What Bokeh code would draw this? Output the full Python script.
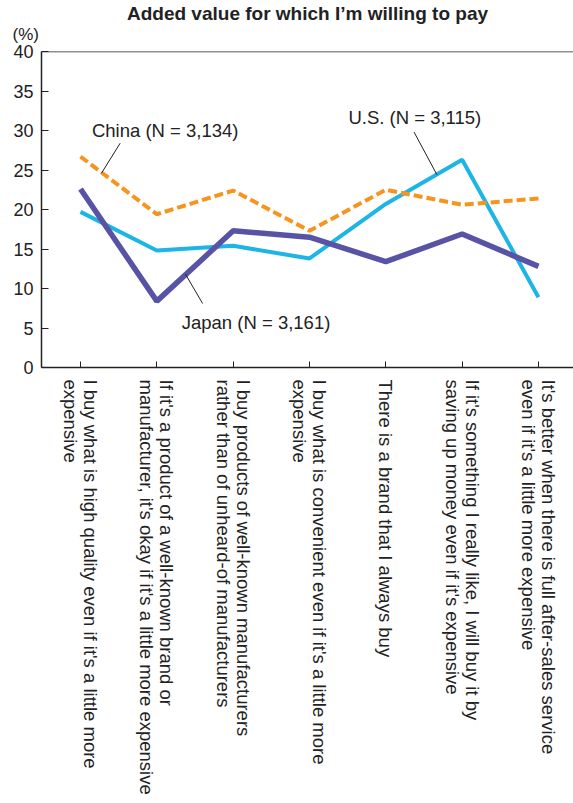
import math
from bokeh.plotting import figure
from bokeh.models import Range1d, FixedTicker, Label, Span, Title
from bokeh.embed import file_html
from bokeh.resources import INLINE

# Survey categories (x axis, one tick each)
categories = [
    "I buy what is high quality even if it's a little more\nexpensive",
    "If it's a product of a well-known brand or\nmanufacturer, it's okay if it's a little more expensive",
    "I buy products of well-known manufacturers\nrather than of unheard-of manufacturers",
    "I buy what is convenient even if it's a little more\nexpensive",
    "There is a brand that I always buy",
    "If it's something I really like, I will buy it by\nsaving up money even if it's expensive",
    "It's better when there is full after-sales service\neven if it's a little more expensive",
]

# Share of respondents (%) by country
china = [26.7, 19.4, 22.4, 17.3, 22.5, 20.6, 21.4]
us = [19.7, 14.8, 15.4, 13.8, 20.7, 26.3, 8.9]
japan = [22.6, 8.4, 17.3, 16.5, 13.4, 16.9, 12.8]

series_labels = ["China (N = 3,134)", "U.S. (N = 3,115)", "Japan (N = 3,161)"]
y_ticks = [0, 5, 10, 15, 20, 25, 30, 35, 40]

FONT = "Liberation Sans"
INK = "#222222"
xs = list(range(len(categories)))

p = figure(
    width=573, height=803,
    output_backend="svg", toolbar_location=None,
    x_range=Range1d(-0.511, 6.459), y_range=Range1d(0, 40),
    min_border_left=41, min_border_right=0,
    min_border_top=51, min_border_bottom=436,
)
p.outline_line_color = None
p.grid.grid_line_color = None

# unit note just above the frame, then the chart title above it
# (the title tucks down beside the unit note)
p.add_layout(Title(text="(%)", align="left", offset=-29, standoff=15,
                   text_font=FONT, text_font_size="17px",
                   text_font_style="normal", text_color=INK), "above")
p.add_layout(Title(text="Added value for which I\u2019m willing to pay",
                   align="center", standoff=-17,
                   text_font=FONT, text_font_size="19px",
                   text_font_style="bold", text_color=INK), "above")

# top frame rule
p.add_layout(Span(location=40, dimension="width", line_color=INK, line_width=1.5))

# y axis
p.yaxis.ticker = FixedTicker(ticks=y_ticks)
p.yaxis.axis_line_color = INK
p.yaxis.axis_line_width = 1.5
p.yaxis.major_tick_in = 7
p.yaxis.major_tick_out = 0
p.yaxis.major_tick_line_color = INK
p.yaxis.minor_tick_line_color = None
p.yaxis.major_label_text_font = FONT
p.yaxis.major_label_text_font_size = "18px"
p.yaxis.major_label_text_color = INK
p.yaxis.major_label_standoff = 8

# x axis with the category statements, read top to bottom
p.xaxis.ticker = FixedTicker(ticks=xs)
p.xaxis.major_label_overrides = {i: c for i, c in enumerate(categories)}
p.xaxis.major_label_orientation = -math.pi / 2
p.xaxis.axis_line_color = INK
p.xaxis.axis_line_width = 1.5
p.xaxis.major_tick_in = 6
p.xaxis.major_tick_out = 0
p.xaxis.major_tick_line_color = INK
p.xaxis.minor_tick_line_color = None
p.xaxis.major_label_text_font = FONT
p.xaxis.major_label_text_font_size = "18.5px"
p.xaxis.major_label_text_color = INK
p.xaxis.major_label_text_line_height = 0.95
p.xaxis.major_label_standoff = 12

# series lines
p.line(xs, us, line_color="#1cb5e5", line_width=4)
p.line(xs, japan, line_color="#5853a4", line_width=5.5)
p.line(xs, china, line_color="#f7941e", line_width=4, line_dash="9 4")

# leader lines to the series names
p.segment(x0=[0.52, 4.37, 1.376], y0=[28.4, 29.8, 11.8],
          x1=[0.275, 4.67, 1.60], y1=[24.6, 24.4, 8.1],
          line_color=INK, line_width=1)

for (lx, ly, txt) in [(1.11, 30.0, series_labels[0]),
                      (4.38, 31.6, series_labels[1]),
                      (2.30, 5.7, series_labels[2])]:
    p.add_layout(Label(x=lx, y=ly, text=txt, text_align="center",
                       text_baseline="middle", text_font=FONT,
                       text_font_size="18.5px", text_color=INK))

open("out.html", "w").write(file_html(p, INLINE))
